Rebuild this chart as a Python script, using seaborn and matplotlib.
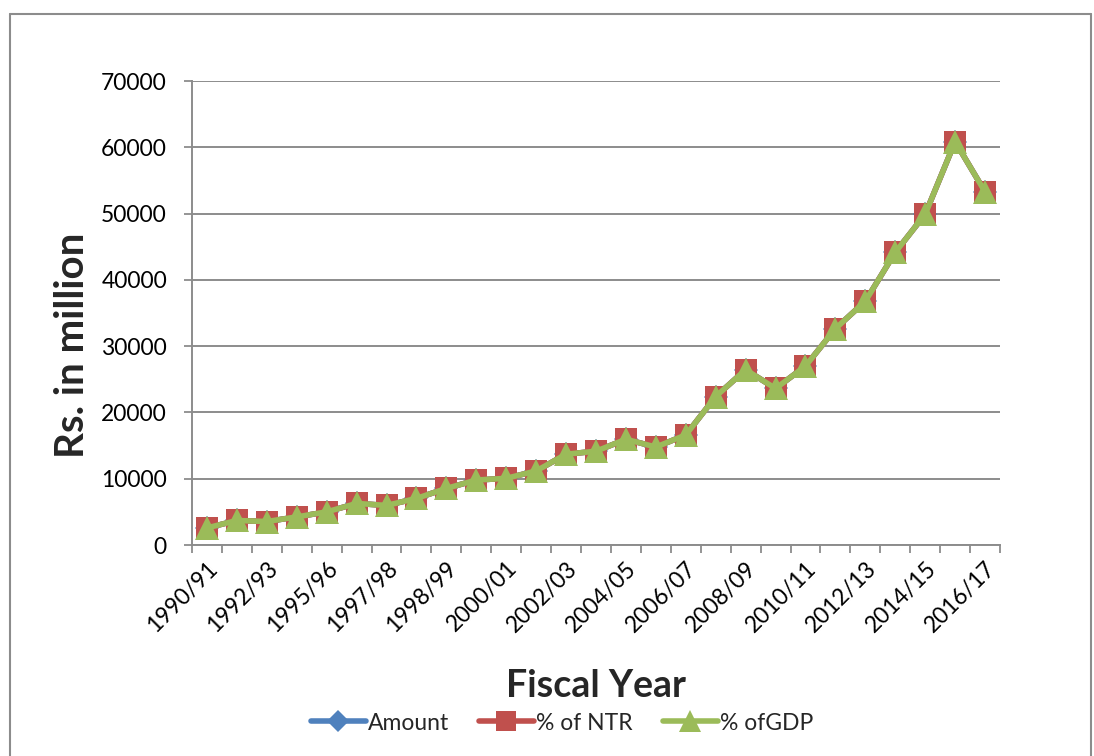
import matplotlib
matplotlib.use("Agg")
import matplotlib.pyplot as plt
import seaborn as sns
import pandas as pd
import numpy as np
from matplotlib.lines import Line2D

fiscal_years = ["1990/91", "1991/92", "1992/93", "1994/95", "1995/96", "1996/97",
                "1997/98", "1997/98b", "1998/99", "1999/00", "2000/01", "2001/02",
                "2002/03", "2003/04", "2004/05", "2005/06", "2006/07", "2007/08",
                "2008/09", "2009/10", "2010/11", "2011/12", "2012/13", "2013/14",
                "2014/15", "2015/16", "2016/17"]
amount = [2580, 3700, 3540, 4240, 5000, 6270, 5970, 7030, 8540, 9800, 10060, 11170,
          13700, 14150, 15950, 14780, 16600, 22400, 26440, 23610, 26990, 32640,
          36780, 44150, 49900, 60850, 53280]
pct_ntr = list(amount)
pct_gdp = list(amount)
series_names = ["Amount", "% of NTR", "% ofGDP"]
y_ticks = [0, 10000, 20000, 30000, 40000, 50000, 60000, 70000]

sns.set_theme(style="white")
plt.rcParams['font.family'] = ['Lato', 'DejaVu Sans']

W, H = 1094, 756
fig = plt.figure(figsize=(W / 100, H / 100), dpi=100)
ax = fig.add_axes([192 / W, 1 - 545 / H, (1000 - 192) / W, (545 - 81) / H])

idx = np.arange(len(fiscal_years))
df = pd.DataFrame({"idx": idx, "Amount": amount, "% of NTR": pct_ntr, "% ofGDP": pct_gdp})

colors = ["#4F81BD", "#C0504D", "#9BBB59"]
markers = ["D", "s", "^"]
msizes = [12, 16, 17]
for name, c, m, ms in zip(series_names, colors, markers, msizes):
    sns.lineplot(data=df, x="idx", y=name, ax=ax, color=c, lw=4, marker=m,
                 markersize=ms, markeredgewidth=0, label=name, legend=False)

ax.set_xlim(-0.5, len(fiscal_years) - 0.5)
ax.set_ylim(0, 70000)
ax.set_yticks(y_ticks)
ax.set_yticklabels([str(v) for v in y_ticks], fontsize=16.5, color="black")
ax.yaxis.grid(True, color="#8c8c8c", lw=1.4)
ax.xaxis.grid(False)
ax.set_axisbelow(True)

ax.set_xticks(idx[::2])
ax.set_xticklabels([fiscal_years[i] for i in idx[::2]], rotation=45, ha="right",
                   va="top", rotation_mode="anchor", fontsize=16.5, color="black")
ax.set_xticks(np.arange(-0.5, len(fiscal_years)), minor=True)
ax.tick_params(axis="x", which="major", length=0, pad=9)
ax.tick_params(axis="x", which="minor", length=6, width=1.3, color="#8c8c8c", direction="out", bottom=True)
ax.tick_params(axis="y", which="major", length=6, width=1.3, color="#8c8c8c", direction="out", left=True, pad=12)

for s in ["top", "right"]:
    ax.spines[s].set_visible(False)
for s in ["left", "bottom"]:
    ax.spines[s].set_color("#8c8c8c")
    ax.spines[s].set_linewidth(1.4)

ax.set_xlabel("")
ax.set_ylabel("")
fig.text(72 / W, 1 - 345 / H, "Rs. in million", rotation=90, ha="center", va="center",
         fontsize=29, fontweight="bold")
fig.text(596 / W, 1 - 686 / H, "Fiscal Year", ha="center", va="center",
         fontsize=27, fontweight="bold")

handles = [Line2D([0], [0], color=c, lw=4, marker=m, markersize=ms * 0.9, markeredgewidth=0)
           for c, m, ms in zip(colors, markers, msizes)]
fig.legend(handles, series_names, loc="center", bbox_to_anchor=(562 / W, 1 - 723 / H),
           ncol=3, frameon=False, fontsize=16.5, handlelength=2.4, handletextpad=0.1,
           columnspacing=1.3)

# outer chart border
fx = lambda px: px / W
fy = lambda py: 1 - py / H
for xs, ys in [((10, 10), (14, 760)), ((10, 1091), (14, 14)), ((1091, 1091), (14, 760))]:
    fig.add_artist(Line2D([fx(xs[0]), fx(xs[1])], [fy(ys[0]), fy(ys[1])],
                          color="#8c8c8c", lw=1.5, transform=fig.transFigure))

fig.savefig("out.png", dpi=100, facecolor="white")
